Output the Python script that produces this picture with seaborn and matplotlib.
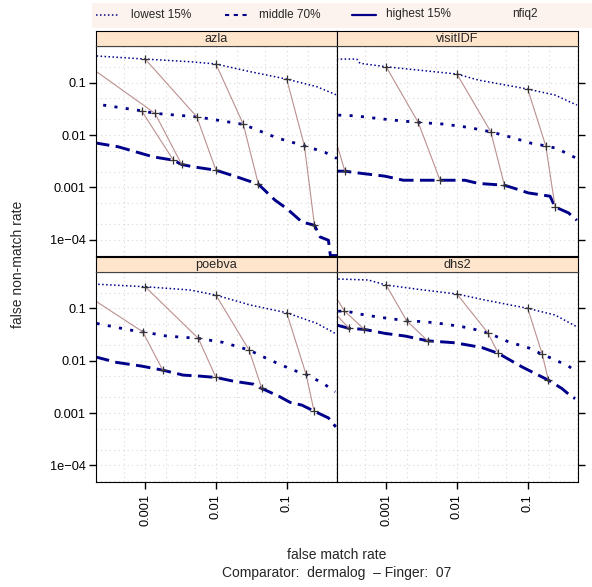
import matplotlib
matplotlib.use("Agg")
import matplotlib.pyplot as plt
import pandas as pd
import seaborn as sns
from matplotlib.lines import Line2D
from matplotlib.patches import Rectangle
from matplotlib.ticker import NullFormatter

sns.set_style("white")
plt.rcParams["font.family"] = ["Liberation Sans", "DejaVu Sans"]

# =============================
# DATA
# =============================
PANELS = ["azla", "visitIDF", "poebva", "dhs2"]
GROUPS = ["lowest 15%", "middle 70%", "highest 15%"]

# azla
azla_low_fmr = [2.06e-4, 0.001, 4.31e-3, 0.01, 0.0304, 0.1, 0.267, 0.512]
azla_low_fnmr = [0.323, 0.282, 0.251, 0.227, 0.162, 0.117, 0.0836, 0.0579]
azla_mid_fmr = [2.55e-4, 8.93e-4, 1.377e-3, 5.36e-3, 0.0244, 0.0724, 0.178, 0.349, 0.512]
azla_mid_fnmr = [0.0373, 0.0290, 0.0259, 0.0223, 0.01596, 0.00885, 0.00622, 0.00466, 0.00357]
azla_high_fmr = [1.95e-4, 4.17e-4, 1.30e-3, 2.50e-3, 3.28e-3, 4.80e-3, 0.01, 0.0197, 0.0398,
                 0.0686, 0.1, 0.164, 0.247, 0.297, 0.389, 0.411, 0.415, 0.52]
azla_high_fnmr = [7.10e-3, 5.96e-3, 3.83e-3, 3.31e-3, 2.74e-3, 2.47e-3, 2.13e-3, 1.59e-3, 1.15e-3,
                  5.69e-4, 3.95e-4, 2.19e-4, 1.89e-4, 1.13e-4, 9.8e-5, 5.45e-5, 5.0e-5, 5.0e-5]
azla_link_id = [0, 0, 1, 1, 1, 2, 2, 2, 3, 3, 3, 4, 4, 4]
azla_link_fmr = [8.93e-4, 2.50e-3, 9.55e-5, 1.377e-3, 3.28e-3, 0.001, 5.36e-3, 0.01,
                 0.01, 0.0244, 0.0398, 0.1, 0.178, 0.247]
azla_link_fnmr = [0.0290, 3.31e-3, 0.339, 0.0259, 2.74e-3, 0.282, 0.0223, 2.13e-3,
                  0.227, 0.01596, 1.15e-3, 0.117, 0.00622, 1.89e-4]

# visitIDF
visit_low_fmr = [2.0e-4, 3.83e-4, 4.27e-4, 0.001, 0.01, 0.0201, 0.1, 0.244, 0.495]
visit_low_fnmr = [0.282, 0.282, 0.234, 0.201, 0.146, 0.112, 0.0755, 0.0579, 0.0373]
visit_mid_fmr = [2.10e-4, 3.62e-4, 7.35e-4, 1.41e-3, 2.84e-3, 6.43e-3, 0.0145, 0.0301,
                 0.0596, 0.114, 0.180, 0.258, 0.495]
visit_mid_fnmr = [0.0240, 0.0233, 0.0208, 0.0190, 0.0174, 0.0162, 0.0140, 0.0115,
                  9.0e-3, 6.92e-3, 6.22e-3, 5.55e-3, 3.57e-3]
visit_high_fmr = [2.0e-4, 2.61e-4, 4.51e-4, 9.6e-4, 1.75e-3, 3.01e-3, 5.77e-3, 0.0130,
                  0.0201, 0.0469, 0.0664, 0.102, 0.207, 0.244, 0.377, 0.495]
visit_high_fnmr = [2.04e-3, 2.04e-3, 1.85e-3, 1.64e-3, 1.37e-3, 1.37e-3, 1.37e-3, 1.37e-3,
                   1.19e-3, 1.10e-3, 9.5e-4, 7.85e-4, 6.79e-4, 4.24e-4, 3.26e-4, 2.36e-4]
visit_link_id = [1, 1, 1, 2, 2, 2, 3, 3, 3, 4, 4, 4]
visit_link_fmr = [6.3e-5, 1.51e-4, 2.61e-4, 0.001, 2.84e-3, 5.77e-3,
                  0.01, 0.0301, 0.0469, 0.1, 0.180, 0.244]
visit_link_fnmr = [0.316, 0.0251, 2.04e-3, 0.201, 0.0174, 1.37e-3,
                   0.146, 0.0115, 1.10e-3, 0.0755, 6.22e-3, 4.24e-4]

# poebva
poe_low_fmr = [2.17e-4, 0.001, 4.31e-3, 0.01, 0.0304, 0.1, 0.267, 0.484]
poe_low_fnmr = [0.288, 0.259, 0.224, 0.179, 0.116, 0.0824, 0.0516, 0.0333]
poe_mid_fmr = [2.06e-4, 6.10e-4, 9.23e-4, 2.01e-3, 5.64e-3, 0.0127, 0.0294, 0.0582,
               0.124, 0.188, 0.330, 0.484]
poe_mid_fnmr = [0.0516, 0.0385, 0.0357, 0.0296, 0.0267, 0.0224, 0.0160, 0.0103,
                6.61e-3, 5.47e-3, 3.68e-3, 2.55e-3]
poe_high_fmr = [1.95e-4, 3.95e-4, 8.93e-4, 1.77e-3, 3.46e-3, 5.96e-3, 0.01, 0.0176,
                0.0338, 0.0445, 0.0807, 0.112, 0.164, 0.244, 0.389, 0.495]
poe_high_fnmr = [0.0119, 9.29e-3, 7.89e-3, 6.61e-3, 5.31e-3, 5.08e-3, 4.80e-3, 4.07e-3,
                 3.57e-3, 2.96e-3, 2.04e-3, 1.60e-3, 1.42e-3, 1.09e-3, 8.09e-4, 5.45e-4]
poe_link_id = [1, 1, 1, 2, 2, 2, 3, 3, 3, 4, 4, 4]
poe_link_fmr = [7.8e-5, 9.23e-4, 1.77e-3, 0.001, 5.64e-3, 0.01,
                0.01, 0.0294, 0.0445, 0.1, 0.188, 0.244]
poe_link_fnmr = [0.316, 0.0357, 6.61e-3, 0.259, 0.0267, 4.80e-3,
                 0.179, 0.0160, 2.96e-3, 0.0824, 5.47e-3, 1.09e-3]

# dhs2
dhs_low_fmr = [2.10e-4, 5.58e-4, 0.001, 2.84e-3, 0.01, 0.0250, 0.1, 0.244, 0.495]
dhs_low_fnmr = [0.363, 0.348, 0.279, 0.231, 0.188, 0.144, 0.100, 0.0745, 0.0445]
dhs_mid_fmr = [2.10e-4, 2.56e-4, 4.51e-4, 7.73e-4, 1.95e-3, 3.54e-3, 6.79e-3, 0.0145,
               0.0273, 0.0533, 0.102, 0.161, 0.219, 0.377, 0.495]
dhs_mid_fnmr = [0.0880, 0.0899, 0.0767, 0.0682, 0.0579, 0.0555, 0.0501, 0.0426,
                0.0342, 0.0230, 0.0177, 0.0132, 0.0111, 7.89e-3, 6.14e-3]
dhs_high_fmr = [2.0e-4, 2.98e-4, 4.90e-4, 9.6e-4, 1.85e-3, 3.86e-3, 9.4e-3, 0.0224,
                0.0385, 0.0826, 0.127, 0.196, 0.303, 0.421, 0.469]
dhs_high_fnmr = [0.0480, 0.0415, 0.0397, 0.0333, 0.0296, 0.0240, 0.0220, 0.0179,
                 0.0138, 7.66e-3, 5.71e-3, 4.26e-3, 2.96e-3, 2.04e-3, 1.90e-3]
dhs_link_id = [1, 1, 1, 2, 2, 2, 3, 3, 3, 4, 4, 4, 5, 5, 5]
dhs_link_fmr = [5.0e-5, 1.58e-4, 2.98e-4, 1.34e-4, 2.56e-4, 4.90e-4, 0.001, 1.95e-3,
                3.86e-3, 0.01, 0.0273, 0.0385, 0.1, 0.161, 0.196]
dhs_link_fnmr = [0.398, 0.105, 0.0415, 0.372, 0.0899, 0.0397, 0.279, 0.0579,
                 0.0240, 0.188, 0.0342, 0.0138, 0.100, 0.0132, 4.26e-3]

X_TICKS = [0.001, 0.01, 0.1]
X_TICK_LABELS = ["0.001", "0.01", "0.1"]
Y_TICKS = [1e-4, 1e-3, 1e-2, 0.1]
Y_TICK_LABELS = ["1e\u221204", "0.001", "0.01", "0.1"]

# =============================
# TABLES
# =============================
curve_sets = [
    ("azla", azla_low_fmr, azla_low_fnmr, azla_mid_fmr, azla_mid_fnmr, azla_high_fmr, azla_high_fnmr),
    ("visitIDF", visit_low_fmr, visit_low_fnmr, visit_mid_fmr, visit_mid_fnmr, visit_high_fmr, visit_high_fnmr),
    ("poebva", poe_low_fmr, poe_low_fnmr, poe_mid_fmr, poe_mid_fnmr, poe_high_fmr, poe_high_fnmr),
    ("dhs2", dhs_low_fmr, dhs_low_fnmr, dhs_mid_fmr, dhs_mid_fnmr, dhs_high_fmr, dhs_high_fnmr),
]
rows = []
for name, *series in curve_sets:
    for g, group in enumerate(GROUPS):
        for x, y in zip(series[2 * g], series[2 * g + 1]):
            rows.append((name, group, x, y))
curves = pd.DataFrame(rows, columns=["alg", "group", "fmr", "fnmr"])

link_sets = [
    ("azla", azla_link_id, azla_link_fmr, azla_link_fnmr),
    ("visitIDF", visit_link_id, visit_link_fmr, visit_link_fnmr),
    ("poebva", poe_link_id, poe_link_fmr, poe_link_fnmr),
    ("dhs2", dhs_link_id, dhs_link_fmr, dhs_link_fnmr),
]
rows = []
for name, ids, xs, ys in link_sets:
    for i, x, y in zip(ids, xs, ys):
        rows.append((name, i, x, y))
links = pd.DataFrame(rows, columns=["alg", "thr", "fmr", "fnmr"])

# =============================
# STYLE
# =============================
NAVY = "#00008B"
LINK_COLOR = "#BC8F8F"
STRIP_COLOR = "#FFE5CC"
CURVE_COLORS = {g: NAVY for g in GROUPS}
CURVE_DASHES = {"lowest 15%": (1, 1.6), "middle 70%": (1.1, 3.0), "highest 15%": (5, 2.2)}
CURVE_WIDTHS = {"lowest 15%": 1.1, "middle 70%": 2.0, "highest 15%": 2.1}

W_PX, H_PX = 592, 587
fig = plt.figure(figsize=(W_PX / 100, H_PX / 100), dpi=100)

col_left = [95.7, 336.7]
panel_w = 241.0
row_top = [46.0, 271.7]
panel_h = 210.0
strip_h = 15.0

x_minor = [2e-4, 5e-4, 2e-3, 5e-3, 2e-2, 5e-2, 0.2, 0.5]
y_minor = [5e-5, 2e-4, 5e-4, 2e-3, 5e-3, 0.02, 0.05, 0.2, 0.5]

for k, name in enumerate(PANELS):
    r, c = divmod(k, 2)
    x0 = col_left[c] / W_PX
    y0 = 1 - (row_top[r] + panel_h) / H_PX
    ax = fig.add_axes([x0, y0, panel_w / W_PX, panel_h / H_PX])
    ax.set_xscale("log")
    ax.set_yscale("log")

    sub = curves[curves["alg"] == name]
    sns.lineplot(data=sub, x="fmr", y="fnmr", hue="group", style="group", size="group",
                 hue_order=GROUPS, style_order=GROUPS, size_order=GROUPS,
                 palette=CURVE_COLORS, dashes=CURVE_DASHES, sizes=CURVE_WIDTHS,
                 estimator=None, sort=False, legend=False, ax=ax)

    lk = links[links["alg"] == name]
    sns.lineplot(data=lk, x="fmr", y="fnmr", units="thr", estimator=None, sort=False,
                 color=LINK_COLOR, linewidth=0.8, legend=False, ax=ax)
    sns.scatterplot(data=lk, x="fmr", y="fnmr", marker="+", s=34, color="#333333",
                    linewidth=0.9, legend=False, ax=ax, zorder=4)

    ax.set_xlim(2.0e-4, 0.509)
    ax.set_ylim(4.9e-5, 0.501)
    ax.set_xlabel("")
    ax.set_ylabel("")

    ax.set_xticks(X_TICKS, labels=X_TICK_LABELS)
    ax.set_yticks(Y_TICKS, labels=Y_TICK_LABELS)
    ax.set_xticks(x_minor, minor=True)
    ax.set_yticks(y_minor, minor=True)
    ax.xaxis.set_minor_formatter(NullFormatter())
    ax.yaxis.set_minor_formatter(NullFormatter())
    ax.tick_params(which="minor", length=0)
    ax.grid(True, which="both", color="#D8D8D8", linestyle=(0, (1, 3)), linewidth=0.8)
    ax.set_axisbelow(True)

    ax.tick_params(axis="both", which="major", color="black", width=1.0, length=5,
                   labelsize=9.2, labelcolor="black")
    if c == 0:
        ax.tick_params(axis="y", which="major", left=True, right=False,
                       labelleft=True, labelright=False, pad=2)
    else:
        ax.tick_params(axis="y", which="major", left=False, right=True,
                       labelleft=False, labelright=False)
    if r == 0:
        ax.tick_params(axis="x", which="both", bottom=False, top=False, labelbottom=False)
    else:
        ax.tick_params(axis="x", which="major", bottom=True, top=False,
                       labelbottom=True, labelrotation=90, pad=4)

    for s in ax.spines.values():
        s.set_color("black")
        s.set_linewidth(0.8)

    # strip
    sax = fig.add_axes([x0, 1 - row_top[r] / H_PX, panel_w / W_PX, strip_h / H_PX])
    sax.set_facecolor(STRIP_COLOR)
    sax.set_xticks([])
    sax.set_yticks([])
    for s in sax.spines.values():
        s.set_color("black")
        s.set_linewidth(0.8)
    sax.spines["bottom"].set_color("#444444")
    sax.text(0.5, 0.47, name, ha="center", va="center", fontsize=9.2,
             transform=sax.transAxes)

# =============================
# KEY (top)
# =============================
fig.add_artist(Rectangle((92 / W_PX, 1 - 28 / H_PX), 500 / W_PX, 25 / H_PX,
                         transform=fig.transFigure, facecolor="#FCF3EE",
                         edgecolor="none", zorder=0))
ky = 1 - 14.5 / H_PX
key_items = [
    (96, 118, (1, 1.6), 1.1, 131, GROUPS[0]),
    (225, 251, (2, 2.2), 1.5, 259, GROUPS[1]),
    (352, 376, None, 1.6, 386, GROUPS[2]),
]
for xa, xb, dash, lw, xt, label in key_items:
    ln = Line2D([xa / W_PX, xb / W_PX], [ky, ky], transform=fig.transFigure,
                color=NAVY, linewidth=lw)
    if dash is not None:
        ln.set_dashes(dash)
    fig.add_artist(ln)
    fig.text(xt / W_PX, ky, label, ha="left", va="center", fontsize=8.5)
fig.text(512 / W_PX, ky, "nfiq2", ha="left", va="center", fontsize=8.5)

# =============================
# AXIS LABELS
# =============================
fig.text(336.7 / W_PX, 1 - 555 / H_PX, "false match rate", ha="center", va="center", fontsize=10)
fig.text(336.7 / W_PX, 1 - 573 / H_PX, "Comparator:  dermalog  \u2013 Finger:  07",
         ha="center", va="center", fontsize=10)
fig.text(18 / W_PX, 1 - 264 / H_PX, "false non-match rate", ha="center", va="center",
         rotation=90, fontsize=10)

fig.savefig("out.png", dpi=100)
